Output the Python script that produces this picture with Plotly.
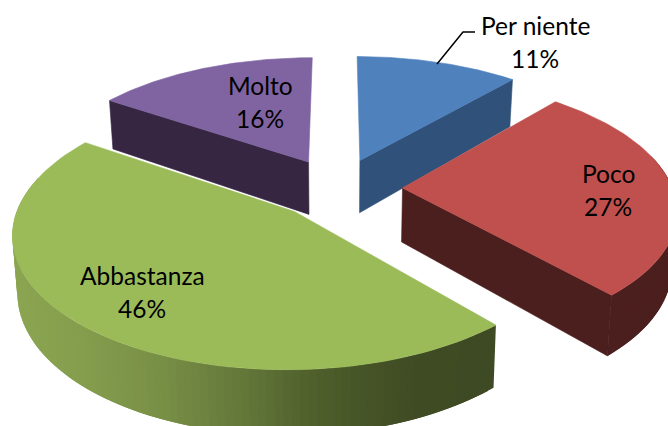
import numpy as np
import plotly.graph_objects as go

# --- data ---
CATEGORIES = ["Per niente", "Poco", "Abbastanza", "Molto"]
VALUES = [11.4, 27.1, 45.9, 15.6]

# --- style ---
TOP_COLORS = ["#4f81bd", "#c0504d", "#9bbb59", "#8064a2"]
WALL_COLORS = ["#30527a", "#4c1f1f", None, "#362642"]
GREEN_STOPS_X = [10, 80, 160, 240, 300, 350, 410, 500]
GREEN_STOPS_RGB = [(140, 166, 82), (133, 158, 78), (120, 143, 70), (100, 120, 58),
                   (82, 99, 46), (72, 87, 40), (64, 76, 36), (62, 74, 35)]
DRAW_ORDER = [0, 3, 1, 2]
LABEL_POS = [(535, 25), (608, 173), (142, 275), (260, 85)]
LINE_GAP = 33
FONT = "Lato"
FONT_SIZE = 24.5

# projection constants (pixels of the picture)
CX, CY = 338, 188
RX, RY = 270, 127
PERSP = 0.149
EXPLODE = 0.239
DEPTH = 54
BOTTOM_SHRINK = 0.985
START_DEG = 0.0


def project(px, py, lower=False):
    s = 1 / (1 + PERSP * py)
    xs = s * (BOTTOM_SHRINK if lower else 1)
    x = CX + RX * px * xs
    y = CY - RY * py * s + (DEPTH * s if lower else 0)
    return x, y


def rim(th, mid):
    return (EXPLODE * np.sin(mid) + np.sin(th), EXPLODE * np.cos(mid) + np.cos(th))


def apex(mid):
    return EXPLODE * np.sin(mid), EXPLODE * np.cos(mid)


def poly(fig, xs, ys, color, name, edge=0.6):
    fig.add_trace(go.Scatter(
        x=list(xs), y=list(ys), mode="lines", fill="toself", fillcolor=color,
        line=dict(color=color, width=edge), hoverinfo="skip", name=name, showlegend=False,
    ))


def wall_color(i, x):
    if WALL_COLORS[i] is not None:
        return WALL_COLORS[i]
    rgb = [np.interp(x, GREEN_STOPS_X, [c[k] for c in GREEN_STOPS_RGB]) for k in range(3)]
    return "rgb(%d,%d,%d)" % tuple(rgb)


fig = go.Figure()
fracs = np.array(VALUES, float) / sum(VALUES)
edges = np.radians(START_DEG) + np.concatenate([[0], np.cumsum(fracs)]) * 2 * np.pi
STEP = np.radians(1.5)

for i in DRAW_ORDER:
    t0, t1 = edges[i], edges[i + 1]
    mid = (t0 + t1) / 2
    name = CATEGORIES[i]
    ax, ay = apex(mid)

    # radial walls that face the viewer
    for tb, sign in ((t0, -1), (t1, 1)):
        if sign * np.sin(tb) > 0.02:
            rx, ry = rim(tb, mid)
            a = project(ax, ay)
            b = project(rx, ry)
            c = project(rx, ry, True)
            d = project(ax, ay, True)
            poly(fig, [a[0], b[0], c[0], d[0], a[0]], [a[1], b[1], c[1], d[1], a[1]],
                 wall_color(i, b[0]), name)

    # outer wall, split in overlapping strips so that it can shade along the arc
    lo, hi = max(t0, np.radians(75)), min(t1, np.radians(285))
    if hi > lo:
        ths = np.arange(lo, hi, STEP)
        for a0 in ths:
            fine = np.linspace(a0, min(a0 + 2 * STEP, hi), 4)
            up = [project(*rim(t, mid)) for t in fine]
            dn = [project(*rim(t, mid), True) for t in fine[::-1]]
            pts = up + dn + up[:1]
            xm = np.mean([p[0] for p in pts])
            poly(fig, [p[0] for p in pts], [p[1] for p in pts], wall_color(i, xm), name, edge=0)

    # top face
    ths = np.linspace(t0, t1, 90)
    pts = [project(ax, ay)] + [project(*rim(t, mid)) for t in ths] + [project(ax, ay)]
    poly(fig, [p[0] for p in pts], [p[1] for p in pts], TOP_COLORS[i], name)

# leader line of the first label
fig.add_trace(go.Scatter(x=[437, 463, 475], y=[64, 32, 32], mode="lines",
                         line=dict(color="#000000", width=1.5), hoverinfo="skip", showlegend=False))

# labels
for cat, val, (lx, ly) in zip(CATEGORIES, VALUES, LABEL_POS):
    for text, yy in ((cat, ly), (f"{round(val)}%", ly + LINE_GAP)):
        fig.add_annotation(x=lx, y=yy, text=text, showarrow=False, xanchor="center", yanchor="middle",
                           font=dict(family=FONT, size=FONT_SIZE, color="#000000"))

fig.update_layout(
    width=668, height=426, margin=dict(l=0, r=0, t=0, b=0),
    paper_bgcolor="#ffffff", plot_bgcolor="#ffffff", showlegend=False,
    xaxis=dict(range=[0, 668], visible=False, fixedrange=True),
    yaxis=dict(range=[426, 0], visible=False, fixedrange=True),
)
fig.write_html("out.html", config={"displayModeBar": False},
               post_script="document.body.style.margin='0';document.documentElement.style.overflow='hidden';")
